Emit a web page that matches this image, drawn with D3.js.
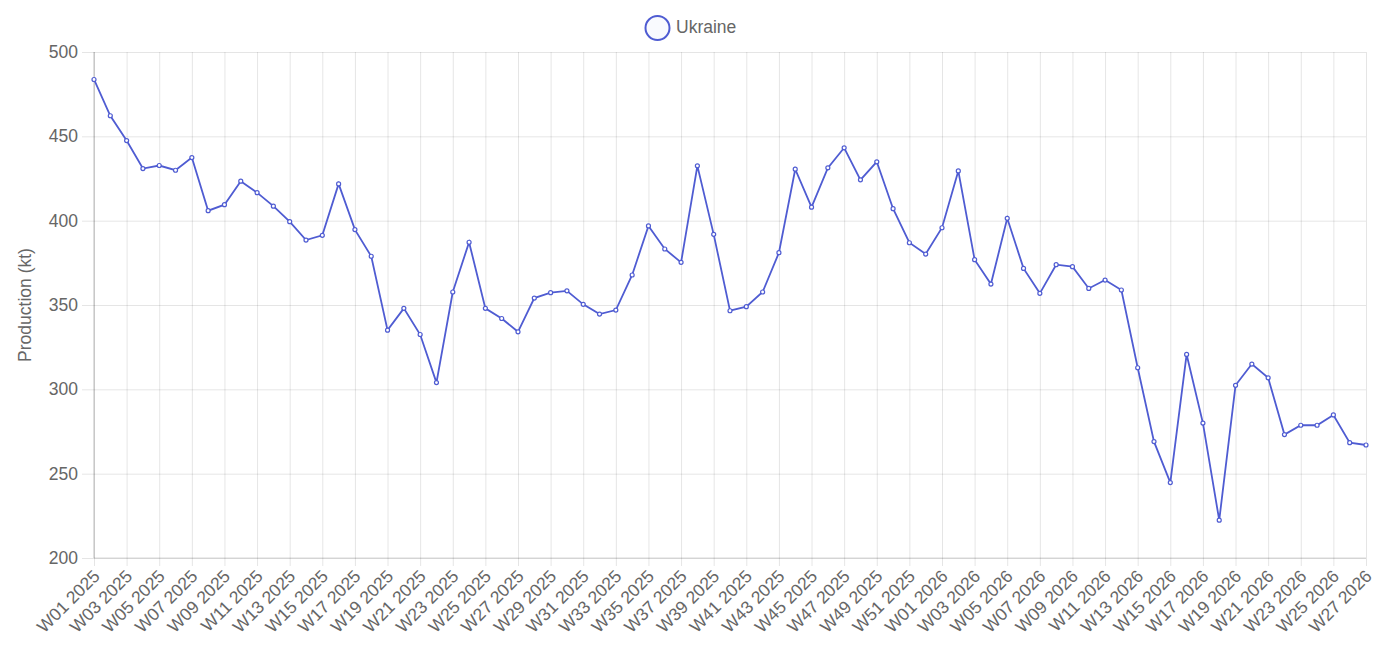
<!DOCTYPE html>
<html>
<head>
<meta charset="utf-8">
<script src="https://cdn.jsdelivr.net/npm/d3@7"></script>
<style>
  html, body { margin: 0; padding: 0; background: #fff; }
  svg { display: block; font-family: "Helvetica Neue", Helvetica, "Liberation Sans", Arial, sans-serif; }
</style>
</head>
<body>
<svg id="chart" width="1379" height="649"></svg>
<script>
const weeks = [
  "W01 2025","W02 2025","W03 2025","W04 2025","W05 2025","W06 2025","W07 2025","W08 2025","W09 2025","W10 2025",
  "W11 2025","W12 2025","W13 2025","W14 2025","W15 2025","W16 2025","W17 2025","W18 2025","W19 2025","W20 2025",
  "W21 2025","W22 2025","W23 2025","W24 2025","W25 2025","W26 2025","W27 2025","W28 2025","W29 2025","W30 2025",
  "W31 2025","W32 2025","W33 2025","W34 2025","W35 2025","W36 2025","W37 2025","W38 2025","W39 2025","W40 2025",
  "W41 2025","W42 2025","W43 2025","W44 2025","W45 2025","W46 2025","W47 2025","W48 2025","W49 2025","W50 2025",
  "W51 2025","W52 2025",
  "W01 2026","W02 2026","W03 2026","W04 2026","W05 2026","W06 2026","W07 2026","W08 2026","W09 2026","W10 2026",
  "W11 2026","W12 2026","W13 2026","W14 2026","W15 2026","W16 2026","W17 2026","W18 2026","W19 2026","W20 2026",
  "W21 2026","W22 2026","W23 2026","W24 2026","W25 2026","W26 2026","W27 2026"
];
const ukraine = [
  483.7, 462.2, 447.5, 430.9, 432.7, 429.9, 437.4, 405.9, 409.5, 423.4,
  416.6, 408.6, 399.4, 388.5, 391.3, 421.8, 394.7, 378.9, 335.1, 348.0,
  332.5, 304.0, 357.7, 387.2, 348.0, 342.0, 334.1, 354.1, 357.3, 358.4,
  350.4, 344.6, 347.0, 367.8, 396.9, 383.2, 375.3, 432.5, 391.9, 346.6,
  349.0, 357.7, 381.0, 430.5, 408.0, 431.3, 443.2, 424.2, 434.9, 407.1,
  386.9, 380.2,
  395.8, 429.5, 376.9, 362.4, 401.4, 371.7, 356.9, 373.9, 372.7, 359.8,
  364.8, 358.9, 312.8, 269.0, 244.7, 320.7, 280.0, 222.4, 302.4, 315.0,
  306.8, 273.2, 278.7, 278.7, 284.8, 268.4, 267.0
];
const yTicks = [200, 250, 300, 350, 400, 450, 500];
const seriesName = "Ukraine";
const yTitle = "Production (kt)";

const color = "#4f5cd2";
const textColor = "#666";
const fontSize = 17.5;
const fontFam = "\"Helvetica Neue\", Helvetica, \"Liberation Sans\", Arial, sans-serif";

const svg = d3.select("#chart");
const pLeft = 94, pRight = 1366, pTop = 52, pBottom = 558;

const x = d3.scalePoint().domain(weeks).range([pLeft, pRight]);
const y = d3.scaleLinear().domain([200, 500]).range([pBottom, pTop]);

// horizontal grid
const gy = svg.append("g").attr("transform", `translate(${pLeft},0)`)
  .call(d3.axisLeft(y).tickValues(yTicks).tickSize(12).tickPadding(4));
gy.select(".domain").remove();
gy.selectAll(".tick line").attr("x2", pRight - pLeft).attr("x1", -12)
  .attr("stroke", "rgba(0,0,0,0.1)");
gy.selectAll(".tick text").attr("fill", textColor).style("font-size", fontSize + "px")
  .style("font-family", fontFam);

// vertical grid + x labels
const shown = weeks.filter((d, i) => i % 2 === 0);
const gx = svg.append("g").attr("transform", `translate(0,${pBottom})`)
  .call(d3.axisBottom(x).tickValues(shown).tickSize(8));
gx.select(".domain").remove();
gx.selectAll(".tick line").attr("y1", pTop - pBottom).attr("y2", 8)
  .attr("stroke", "rgba(0,0,0,0.1)");
gx.selectAll(".tick text")
  .attr("fill", textColor).style("font-size", fontSize + "px")
  .style("font-family", fontFam)
  .attr("text-anchor", "end")
  .attr("dy", null)
  .attr("y", 0)
  .attr("dominant-baseline", "middle")
  .attr("transform", "translate(3,16) rotate(-45)");

// axis lines
svg.append("line").attr("x1", pLeft).attr("x2", pLeft).attr("y1", pTop).attr("y2", pBottom)
  .attr("stroke", "rgba(0,0,0,0.25)").attr("stroke-width", 1);
svg.append("line").attr("x1", pLeft).attr("x2", pRight).attr("y1", pBottom).attr("y2", pBottom)
  .attr("stroke", "rgba(0,0,0,0.15)").attr("stroke-width", 1);

// y title
svg.append("text")
  .attr("transform", `translate(26,${(pTop + pBottom) / 2}) rotate(-90)`)
  .attr("text-anchor", "middle").attr("dominant-baseline", "middle")
  .attr("fill", textColor).style("font-size", fontSize + "px")
  .text(yTitle);

// line
const line = d3.line().x((d, i) => x(weeks[i])).y(d => y(d));
svg.append("path").datum(ukraine)
  .attr("d", line).attr("fill", "none")
  .attr("stroke", color).attr("stroke-width", 1.8).attr("stroke-linejoin", "miter");

svg.append("g").selectAll("circle").data(ukraine).join("circle")
  .attr("cx", (d, i) => x(weeks[i])).attr("cy", d => y(d)).attr("r", 2)
  .attr("fill", "#fff").attr("stroke", color).attr("stroke-width", 1.2);

// legend
const lg = svg.append("g");
lg.append("circle").attr("cx", 657.5).attr("cy", 28).attr("r", 12)
  .attr("fill", "rgba(79,92,210,0.03)").attr("stroke", color).attr("stroke-width", 2);
lg.append("text").attr("x", 676).attr("y", 28)
  .attr("dominant-baseline", "middle").attr("fill", textColor)
  .style("font-size", fontSize + "px").text(seriesName);
</script>
</body>
</html>
